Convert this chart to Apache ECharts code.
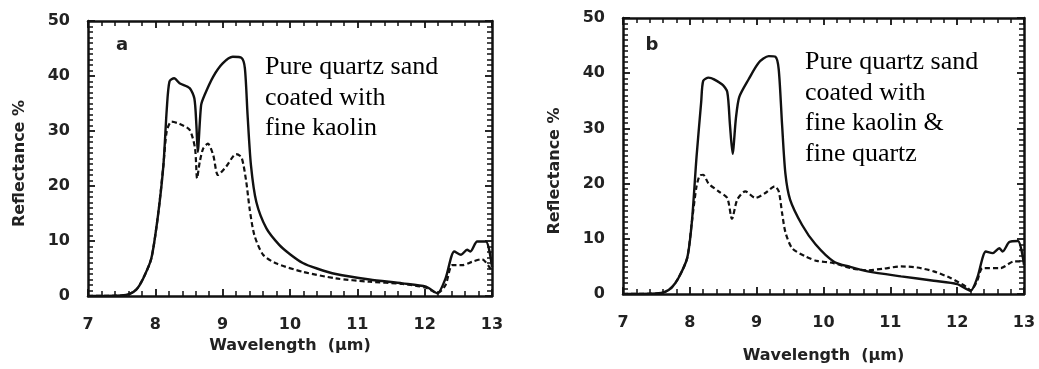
<!DOCTYPE html>
<html>
<head>
<meta charset="utf-8">
<script src="https://cdn.jsdelivr.net/npm/echarts@6/dist/echarts.min.js"></script>
<style>
  html, body { margin: 0; background: #fff; }
  #chart { width: 1039px; height: 369px; }
</style>
</head>
<body>
<div id="chart"></div>
<script>
// panel a: quartz sand coated with fine kaolin
const aSolidX = [7.0, 7.5, 7.62, 7.72, 7.82, 7.94, 8.04, 8.12, 8.17, 8.21, 8.28, 8.36, 8.51, 8.58, 8.61, 8.63, 8.68, 8.73, 8.86, 9.0, 9.15, 9.28, 9.33, 9.37, 9.42, 9.5, 9.65, 9.84, 10.0, 10.19, 10.4, 10.68, 11.18, 11.67, 12.02, 12.19, 12.31, 12.44, 12.54, 12.63, 12.68, 12.78, 12.91, 13.0];
const aSolidY = [0, 0.1, 0.4, 1.2, 3.2, 6.8, 14.7, 23.8, 34, 39, 39.6, 38.7, 37.8, 35.9, 31, 26.2, 34.7, 36.5, 39.9, 42.3, 43.5, 43.3, 41.4, 32.9, 23.8, 17.1, 12.3, 9.3, 7.6, 6.0, 5.0, 4.0, 3.0, 2.3, 1.7, 0.5, 3.2, 8.1, 7.5, 8.4, 8.1, 9.9, 9.9, 5.3];
const aDashX = [7.0, 7.5, 7.62, 7.72, 7.82, 7.94, 8.04, 8.12, 8.17, 8.24, 8.36, 8.51, 8.59, 8.62, 8.66, 8.71, 8.78, 8.86, 8.93, 9.05, 9.2, 9.28, 9.35, 9.4, 9.47, 9.6, 9.8, 10.19, 10.68, 11.18, 11.67, 12.02, 12.19, 12.31, 12.41, 12.56, 12.7, 12.85, 13.0];
const aDashY = [0, 0.1, 0.4, 1.2, 3.2, 6.8, 14.7, 23.8, 30, 31.7, 31.3, 30.2, 26.8, 21.4, 24.4, 26.8, 27.7, 25.6, 22, 23.5, 25.8, 25.2, 20.8, 15.9, 11.1, 7.5, 5.9, 4.4, 3.2, 2.6, 2.2, 1.5, 0.5, 2.0, 5.6, 5.6, 6.2, 6.7, 4.5];

// panel b: coated with fine kaolin & fine quartz
const bSolidX = [7.0, 7.5, 7.63, 7.73, 7.83, 7.96, 8.03, 8.1, 8.17, 8.2, 8.28, 8.48, 8.56, 8.6, 8.64, 8.69, 8.74, 8.88, 9.03, 9.18, 9.28, 9.33, 9.38, 9.43, 9.5, 9.68, 9.88, 10.15, 10.4, 10.66, 11.16, 11.65, 12.0, 12.2, 12.3, 12.43, 12.53, 12.63, 12.68, 12.78, 12.91, 13.0];
const bSolidY = [0, 0.1, 0.4, 1.2, 2.9, 6.5, 13, 24.8, 34.8, 38.6, 39.2, 38, 36.6, 30.7, 25.4, 31.9, 35.7, 38.9, 41.9, 43.1, 43, 40.7, 30.7, 21.8, 17.1, 12.5, 9.0, 5.9, 4.9, 4.1, 3.2, 2.4, 1.8, 0.6, 2.9, 7.7, 7.4, 8.3, 7.7, 9.4, 9.6, 5.3];
const bDashX = [7.0, 7.5, 7.63, 7.73, 7.83, 7.96, 8.03, 8.1, 8.15, 8.2, 8.28, 8.43, 8.56, 8.63, 8.71, 8.83, 8.98, 9.13, 9.27, 9.33, 9.38, 9.43, 9.53, 9.73, 9.9, 10.15, 10.4, 10.66, 10.9, 11.16, 11.4, 11.65, 11.9, 12.15, 12.2, 12.3, 12.38, 12.65, 12.85, 13.0];
const bDashY = [0, 0.1, 0.4, 1.2, 2.9, 6.5, 13, 19.5, 21.5, 21.6, 20, 18.6, 17.4, 13.6, 17.1, 18.6, 17.4, 18.3, 19.5, 18.6, 14.7, 11.2, 8.3, 6.8, 6.0, 5.6, 4.7, 4.3, 4.6, 5.0, 4.8, 4.1, 2.9, 1.2, 0.6, 2.4, 4.7, 4.7, 5.9, 5.9];

const panelLabels = ["a", "b"];
const notes = [
  "Pure quartz sand\ncoated with\nfine kaolin",
  "Pure quartz sand\ncoated with\nfine kaolin &\nfine quartz"
];

const zip = (xs, ys) => xs.map((x, i) => [x, ys[i]]);

const ink = "#111";
const tickFont = { color: "#222", fontFamily: "DejaVu Sans", fontWeight: "bold", fontSize: 16 };

const makeX = (grid, pos, nameGap) => ({
  gridIndex: grid,
  type: "value",
  position: pos,
  min: 7, max: 13, interval: 1,
  name: pos === "bottom" ? "Wavelength  (\u00b5m)" : "",
  nameLocation: "middle",
  nameGap: nameGap,
  nameTextStyle: { color: "#222", fontFamily: "DejaVu Sans", fontWeight: "bold", fontSize: 16 },
  axisLine: { show: true, onZero: false, lineStyle: { color: ink, width: 2.5 } },
  axisTick: { show: true, inside: true, length: 7, lineStyle: { color: ink, width: 1.8 } },
  minorTick: { show: true, splitNumber: 5, length: 5, lineStyle: { color: ink, width: 1.5 } },
  axisLabel: { show: pos === "bottom", margin: 21, ...tickFont },
  splitLine: { show: false }
});

const makeY = (grid, pos, shift) => ({
  gridIndex: grid,
  type: "value",
  position: pos,
  min: 0, max: 50, interval: 10,
  name: pos === "left" ? "Reflectance %" : "",
  nameLocation: "middle",
  nameGap: 60,
  nameRotate: 90,
  nameTextStyle: { color: "#222", fontFamily: "DejaVu Sans", fontWeight: "bold", fontSize: 16, padding: [0, shift, 0, 0] },
  axisLine: { show: true, onZero: false, lineStyle: { color: ink, width: 2.5 } },
  axisTick: { show: true, inside: true, length: 7, lineStyle: { color: ink, width: 1.8 } },
  minorTick: { show: true, splitNumber: 10, length: 5, lineStyle: { color: ink, width: 1.5 } },
  axisLabel: { show: pos === "left", margin: 18, ...tickFont },
  splitLine: { show: false }
});

const line = (data, xi, yi, dashed) => ({
  type: "line",
  xAxisIndex: xi,
  yAxisIndex: yi,
  data: data,
  smooth: 0.25,
  showSymbol: false,
  silent: true,
  lineStyle: { color: ink, width: dashed ? 2.2 : 2.4, type: dashed ? [5, 3] : "solid" }
});

const note = (x, y, text) => ({
  type: "text",
  x: x, y: y,
  style: { text: text, font: '26px "Liberation Serif"', fill: "#000", lineHeight: 30.5, textAlign: "left", textVerticalAlign: "top" }
});

const tag = (x, y, text) => ({
  type: "text",
  x: x, y: y,
  style: { text: text, font: 'bold 18px "DejaVu Sans"', fill: "#222", textAlign: "center", textVerticalAlign: "middle" }
});

const chart = echarts.init(document.getElementById("chart"));
chart.setOption({
  animation: false,
  backgroundColor: "#fff",
  grid: [
    { left: 88, top: 21, width: 404, height: 275 },
    { left: 623, top: 18, width: 401, height: 283 }
  ],
  xAxis: [
    makeX(0, "bottom", 38),
    makeX(0, "top", 0),
    makeX(1, "bottom", 54),
    makeX(1, "top", 0)
  ],
  yAxis: [
    makeY(0, "left", 10),
    makeY(0, "right", 0),
    makeY(1, "left", 30),
    makeY(1, "right", 0)
  ],
  series: [
    line(zip(aSolidX, aSolidY), 0, 0, false),
    line(zip(aDashX, aDashY), 0, 0, true),
    line(zip(bSolidX, bSolidY), 2, 2, false),
    line(zip(bDashX, bDashY), 2, 2, true)
  ],
  graphic: [
    tag(122, 45, panelLabels[0]),
    tag(652, 45, panelLabels[1]),
    note(265, 52, notes[0]),
    note(805, 47, notes[1])
  ]
});
</script>
</body>
</html>
